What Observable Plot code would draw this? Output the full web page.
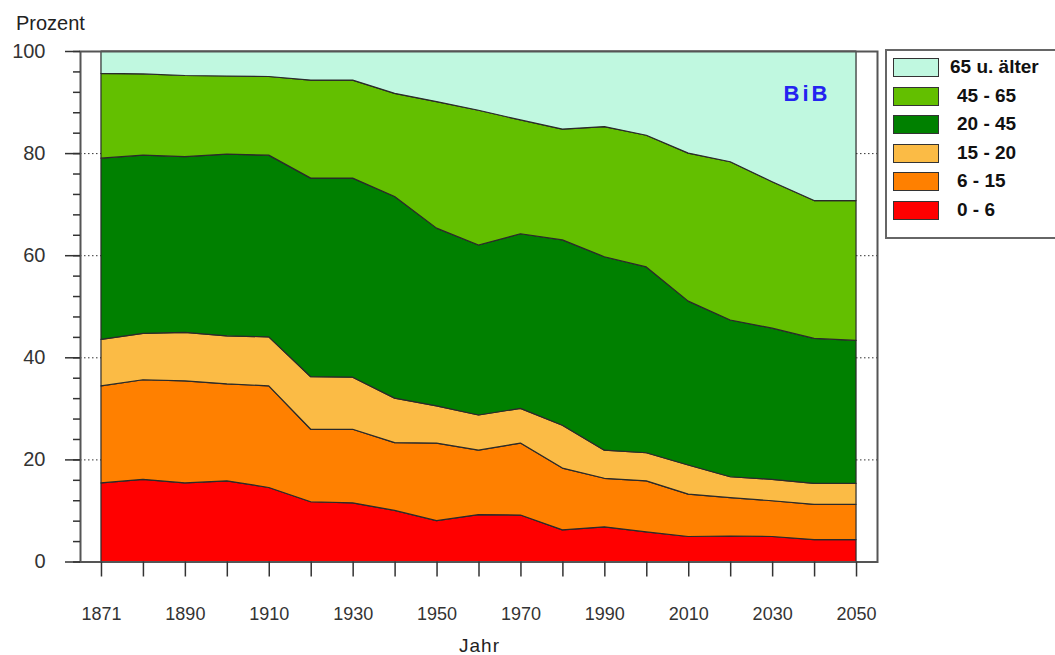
<!DOCTYPE html>
<html>
<head>
<meta charset="utf-8">
<script src="https://cdn.jsdelivr.net/npm/d3@7"></script>
<script src="https://cdn.jsdelivr.net/npm/@observablehq/plot@0.6"></script>
<style>
  html, body { margin: 0; padding: 0; background: #fff; }
  #wrap { position: relative; width: 1055px; height: 655px; overflow: hidden; font-family: "Liberation Sans", Arial, sans-serif; }
  #wrap svg { position: absolute; left: 0; top: 0; }
  .ovl { position: absolute; color: #222; white-space: nowrap; }
  #legend { position: absolute; left: 885px; top: 49px; width: 180px; height: 186px; border: 2px solid #666; background: #fff; }
  .item { position: absolute; left: 6px; width: 170px; height: 20px; }
  .sw { position: absolute; left: 0; top: 0; width: 44px; height: 17px; border: 1.5px solid #333; }
  .lab { position: absolute; left: 64px; top: -1px; font-weight: bold; font-size: 19px; line-height: 20px; color: #111; white-space: nowrap; }
</style>
</head>
<body>
<div id="wrap">
  <div class="ovl" style="left:16px; top:13px; font-size:20px; line-height:20px;">Prozent</div>
  <div class="ovl" style="left:459px; top:636px; font-size:19px; line-height:20px; letter-spacing:1px;">Jahr</div>
  <div id="legend"></div>
</div>
<script>
const years = [1871, 1880, 1890, 1900, 1910, 1920, 1930, 1940, 1950, 1960, 1970, 1980, 1990, 2000, 2010, 2020, 2030, 2040, 2050];
const tickLabels = [1871, 1890, 1910, 1930, 1950, 1970, 1990, 2010, 2030, 2050];
const groups = ["0 - 6", "6 - 15", "15 - 20", "20 - 45", "45 - 65", "65 u. älter"];
const colors = ["#FF0000", "#FF8000", "#FBBB45", "#008000", "#63BF00", "#C0F8E0"];

// Anteile in Prozent je Altersgruppe
const age0_6   = [15.4, 16.1, 15.4, 15.8, 14.5, 11.7, 11.5, 10.0, 8.0, 9.2, 9.1, 6.2, 6.8, 5.8, 4.9, 5.0, 4.9, 4.3, 4.3];
const age6_15  = [19.0, 19.5, 20.0, 19.0, 19.9, 14.2, 14.4, 13.3, 15.2, 12.6, 14.1, 12.1, 9.5, 10.0, 8.3, 7.5, 7.0, 6.9, 6.9];
const age15_20 = [9.1, 9.1, 9.5, 9.4, 9.6, 10.3, 10.2, 8.7, 7.3, 6.9, 6.8, 8.4, 5.5, 5.5, 5.7, 4.1, 4.2, 4.1, 4.1];
const age20_45 = [35.5, 34.9, 34.4, 35.6, 35.6, 38.9, 39.0, 39.5, 34.8, 33.3, 34.2, 36.3, 37.9, 36.4, 32.1, 30.7, 29.6, 28.4, 28.0];
const age45_65 = [16.6, 15.9, 15.9, 15.3, 15.4, 19.2, 19.2, 20.2, 24.8, 26.4, 22.3, 21.7, 25.5, 25.8, 29.0, 31.0, 28.7, 27.0, 27.4];
const age65p   = [4.4, 4.5, 4.8, 4.9, 5.0, 5.7, 5.7, 8.3, 9.9, 11.6, 13.5, 15.3, 14.8, 16.5, 20.0, 21.7, 25.6, 29.3, 29.3];

const series = [age0_6, age6_15, age15_20, age20_45, age45_65, age65p];
const data = groups.flatMap((g, gi) => years.map((yr, i) => ({year: yr, group: g, value: series[gi][i]})));

const chart = Plot.plot({
  width: 1055,
  height: 655,
  marginLeft: 80,
  marginRight: 178,
  marginTop: 51,
  marginBottom: 93.5,
  style: {fontFamily: "'Liberation Sans', Arial, sans-serif", fontSize: "18px", color: "#333", background: "transparent"},
  x: {type: "point", domain: years, padding: 0.5, round: false, label: null},
  y: {domain: [0, 100], label: null},
  color: {domain: groups, range: colors},
  marks: [
    Plot.gridY([20, 40, 60, 80], {stroke: "#333", strokeOpacity: 1, strokeWidth: 1, strokeDasharray: "1.5,2.5"}),
    Plot.areaY(data, {x: "year", y: "value", fill: "group", z: "group", order: groups, stroke: "#2a2a2a", strokeWidth: 1.2, fillOpacity: 1}),
    Plot.frame({stroke: "#555", strokeWidth: 2}),
    Plot.axisY(d3.range(0, 101, 4), {tickSize: 7, tickFormat: () => "", strokeWidth: 1.5, label: null}),
    Plot.axisY(d3.range(0, 101, 20), {tickSize: 15, tickPadding: 20, strokeWidth: 1.5, fontSize: 20, label: null}),
    Plot.axisX(years, {tickSize: 15, tickPadding: 30, strokeWidth: 1.5, label: null, tickFormat: d => tickLabels.includes(d) ? String(d) : ""}),
    Plot.text(["BiB"], {frameAnchor: "top-right", dx: -47, dy: 42, lineAnchor: "middle", textAnchor: "end", fill: "#2424F0", fontWeight: "bold", fontSize: 22})
  ]
});

d3.select(chart).selectAll("text").filter(function() { return this.textContent === "BiB"; }).attr("letter-spacing", "3px");
const wrap = document.getElementById("wrap");
wrap.insertBefore(chart, wrap.firstChild);

const legend = document.getElementById("legend");
const legendOrder = groups.slice().reverse();
legendOrder.forEach((g, i) => {
  const item = document.createElement("div");
  item.className = "item";
  item.style.top = (7 + 28.5 * i) + "px";
  const sw = document.createElement("div");
  sw.className = "sw";
  sw.style.background = colors[groups.indexOf(g)];
  const lab = document.createElement("div");
  lab.className = "lab";
  lab.textContent = g;
  if (i === 0) lab.style.left = "57px";
  item.appendChild(sw);
  item.appendChild(lab);
  legend.appendChild(item);
});
</script>
</body>
</html>
